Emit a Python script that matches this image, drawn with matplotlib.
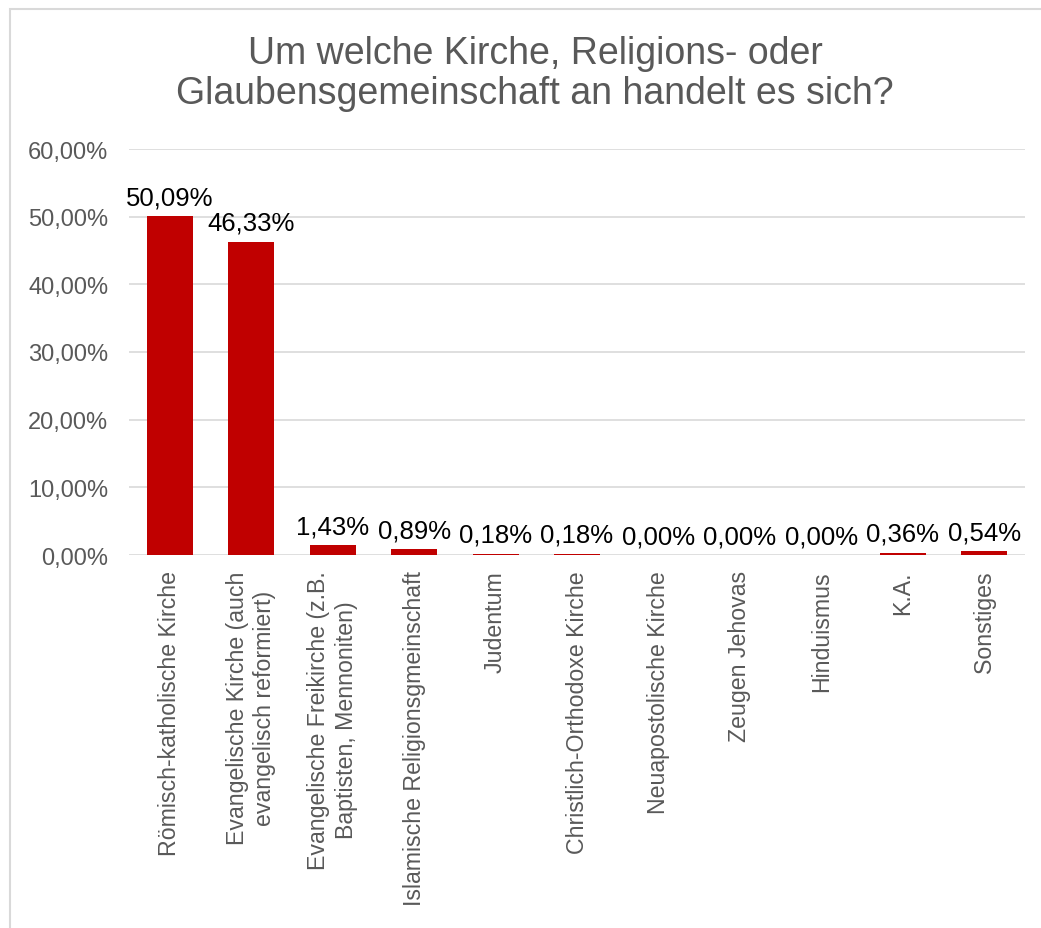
import matplotlib.pyplot as plt
from matplotlib.patches import Rectangle

plt.rcParams['font.family'] = ['Liberation Sans', 'DejaVu Sans']

categories = [
    "Römisch-katholische Kirche",
    "Evangelische Kirche (auch\nevangelisch reformiert)",
    "Evangelische Freikirche (z.B.\nBaptisten, Mennoniten)",
    "Islamische Religionsgmeinschaft",
    "Judentum",
    "Christlich-Orthodoxe Kirche",
    "Neuapostolische Kirche",
    "Zeugen Jehovas",
    "Hinduismus",
    "K.A.",
    "Sonstiges",
]
values = [50.09, 46.33, 1.43, 0.89, 0.18, 0.18, 0.00, 0.00, 0.00, 0.36, 0.54]
yticks = [0, 10, 20, 30, 40, 50, 60]

fig = plt.figure(figsize=(10.41, 9.29), dpi=100)
ax = fig.add_axes([129 / 1041, 1 - 556 / 929, (1025 - 129) / 1041, (556 - 150) / 929])

# light border around the chart area
fig.patches.append(Rectangle((10 / 1041, -0.05), 1.1, 1 - 10 / 929 + 0.05,
                             transform=fig.transFigure, fill=False,
                             edgecolor='#d9d9d9', linewidth=1.5))

x = range(len(categories))
ax.bar(x, values, width=0.565, color='#C00000', zorder=3)

for xi, v in zip(x, values):
    ax.annotate(f"{v:.2f}%".replace('.', ','), (xi, v), xytext=(0, 5),
                textcoords='offset points', ha='center', va='bottom',
                fontsize=18.5, color='black')

ax.set_xlim(-0.5, len(categories) - 0.5)
ax.set_ylim(0, 60)
ax.set_yticks(yticks)
ax.set_yticklabels([f"{t:.2f}%".replace('.', ',') for t in yticks],
                   fontsize=17, color='#595959')
ax.set_xticks(list(x))
ax.set_xticklabels(categories, rotation=90, fontsize=16.7, color='#595959',
                   ha='center', va='top', multialignment='center',
                   linespacing=1.25)
ax.tick_params(axis='both', length=0)
ax.tick_params(axis='y', pad=15)
ax.tick_params(axis='x', pad=11)
ax.yaxis.grid(True, color='#d9d9d9', linewidth=1.2, zorder=0)
for s in ax.spines.values():
    s.set_visible(False)

fig.text(535 / 1041, 1 - 36 / 929,
         "Um welche Kirche, Religions- oder\nGlaubensgemeinschaft an handelt es sich?",
         ha='center', va='top', fontsize=27, color='#595959', linespacing=1.15)

fig.savefig('out.png', dpi=100)
